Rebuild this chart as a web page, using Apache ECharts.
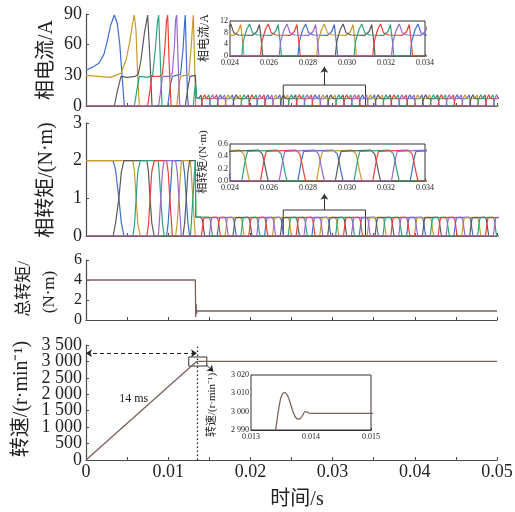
<!DOCTYPE html>
<html>
<head>
<meta charset="utf-8">
<script src="https://cdn.jsdelivr.net/npm/echarts/dist/echarts.min.js"></script>
<style>
  html, body { margin: 0; padding: 0; background: #fff; }
  #chart { width: 515px; height: 512px; }
</style>
</head>
<body>
<div id="chart"></div>
<script>
// ---------------- data ----------------
// phase order: A(blue) B(gold) C(gray) D(green) E(red) F(purple)
const phaseColors = ['#3f6fd1', '#c99a2e', '#5a5a5a', '#2aa57a', '#ee4035', '#9b66cc'];

// start-up phase currents [t (s), i (A)]
const iStartA = [[0,35],[0.0008,38],[0.0016,42],[0.0022,51],[0.0026,64],[0.0030,79],[0.00345,89],[0.0038,81],[0.0041,61],[0.0044,29],[0.00466,0],
  [0.00994,0],[0.0103,22],[0.0105,29],[0.0110,30],[0.0115,31],[0.0118,55],[0.0120,82],[0.01208,89],[0.0122,50],[0.01235,10],[0.01245,0]];
const iStartB = [[0,30],[0.0015,29],[0.0030,28],[0.0036,30],[0.00426,32],[0.00487,45],[0.00535,64],[0.00568,81],[0.00588,89],[0.00608,74],[0.00629,29],[0.00649,0],
  [0.01103,0],[0.0113,18],[0.0115,29],[0.0120,30],[0.0125,30],[0.0128,58],[0.0130,84],[0.01306,89],[0.0132,45],[0.01335,0]];
const iStartC = [[0,0],[0.00345,0],[0.0038,14],[0.00426,29],[0.0050,28],[0.0060,29],[0.00635,31],[0.00669,45],[0.0071,71],[0.0075,89],[0.00779,45],[0.00803,0],
  [0.01208,0],[0.0124,18],[0.01265,29],[0.0133,30],[0.01345,8],[0.0137,7.3]];
const iStartD = [[0,0],[0.00588,0],[0.0062,16],[0.00649,29],[0.0075,28],[0.00811,30],[0.00843,55],[0.00868,81],[0.00884,89],[0.00904,45],[0.00925,0],
  [0.01306,0],[0.0132,14],[0.0133,20],[0.01345,8],[0.0138,7.3]];
const iStartE = [[0,0],[0.0075,0],[0.0078,16],[0.0080,29],[0.0090,29],[0.0093,31],[0.0096,58],[0.0098,84],[0.00994,89],[0.0101,45],[0.01035,0]];
const iStartF = [[0,0],[0.00884,0],[0.0091,16],[0.0093,29],[0.0102,29],[0.0105,32],[0.01075,58],[0.0109,84],[0.01103,89],[0.0112,45],[0.0114,0]];

// start-up phase torques [t (s), T (N·m)]
const tStartA = [[0,2],[0.0033,2],[0.0036,1.75],[0.0040,1.0],[0.0043,0.35],[0.00462,0],[0.0098,0],[0.0100,0.35],[0.0102,1.0],[0.0104,1.65],[0.0105,2],
  [0.0118,2],[0.0120,1.65],[0.0122,1],[0.0124,0.35],[0.0126,0]];
const tStartB = [[0,2],[0.0057,2],[0.0059,1.7],[0.0061,1],[0.0063,0.35],[0.0066,0],[0.0109,0],[0.0111,0.35],[0.0113,1],[0.0115,1.65],[0.0116,2],
  [0.0127,2],[0.0128,1.7],[0.0130,1],[0.0132,0.3],[0.0133,0]];
const tStartC = [[0,0],[0.0033,0],[0.0036,0.35],[0.0040,1],[0.0043,1.7],[0.00462,2],[0.0074,2],[0.0076,1.7],[0.0078,1],[0.0080,0.35],[0.0083,0],
  [0.0118,0],[0.0120,0.35],[0.0122,1],[0.0124,1.7],[0.0126,2],[0.0133,2],[0.01335,0.5],[0.0135,0.5]];
const tStartD = [[0,0],[0.0057,0],[0.0059,0.3],[0.0061,1],[0.0063,1.7],[0.0066,2],[0.0088,2],[0.0089,1.7],[0.0091,1],[0.0093,0.35],[0.0095,0],
  [0.0127,0],[0.0128,0.3],[0.0130,1],[0.0132,1.7],[0.0133,2],[0.01335,0.5],[0.0135,0.5]];
const tStartE = [[0,0],[0.0074,0],[0.0076,0.3],[0.0078,1],[0.0080,1.7],[0.0083,2],[0.0098,2],[0.0100,1.7],[0.0102,1],[0.0104,0.35],[0.0105,0]];
const tStartF = [[0,0],[0.0088,0],[0.0089,0.3],[0.0091,1],[0.0093,1.7],[0.0095,2],[0.0109,2],[0.0111,1.7],[0.0113,1],[0.0115,0.35],[0.0116,0]];

// steady-state commutation instants (s)
const ssEvents = [0.01404,0.01500,0.01596,0.01692,0.01788,0.01884,0.01980,0.02076,0.02172,0.02268,0.02364,0.02460,
  0.02556,0.02652,0.02748,0.02844,0.02940,0.03036,0.03132,0.03228,0.03324,0.03420,0.03516,0.03612,0.03708,0.03804,
  0.03900,0.03996,0.04092,0.04188,0.04284,0.04380,0.04476,0.04572,0.04668,0.04764,0.04860,0.04956,0.05052,0.05148];
// steady-state pulse shapes, relative to turn-on / turn-off instant
const ssCurrentOn  = [[0,0],[0.00008,5],[0.00025,9],[0.0004,11],[0.00055,8],[0.0008,7.2]];
const ssCurrentOff = [[-0.0004,7.1],[-0.00018,8.4],[-0.00005,10.8],[0.00005,5],[0.00012,0]];
const ssTorqueOn   = [[0,0],[0.0001,0.18],[0.0002,0.36],[0.0003,0.48],[0.0004,0.5]];
const ssTorqueOff  = [[-0.0001,0.5],[0.0001,0.44],[0.0002,0.3],[0.0003,0.14],[0.0004,0]];

// total torque (N·m)
const totalTorque = [[0,4],[0.0133,4],[0.01335,0.3],[0.0134,1.6],[0.01345,0.6],[0.0135,0.9],[0.05,0.9]];
// speed (r/min)
const speed = [[0,0],[0.01341,2990],[0.01348,3005],[0.01352,3009.5],[0.01356,3010.4],[0.01362,3008],[0.01370,3000],
  [0.01376,2996.3],[0.01381,2996],[0.01386,2998],[0.01390,3000],[0.01394,2999.7],[0.01398,2999.1],[0.0141,2999.1],[0.05,2999.1]];

// ---------------- build ----------------
function buildPhase(p, start, onTpl, offTpl) {
  const pts = start.map(d => d.slice());
  ssEvents.forEach((e, j) => {
    if ((j + 4) % 6 === p) onTpl.forEach(([dt, v]) => pts.push([e + dt, v]));
    if ((j + 2) % 6 === p) offTpl.forEach(([dt, v]) => pts.push([e + dt, v]));
  });
  return pts;
}
const iStarts = [iStartA, iStartB, iStartC, iStartD, iStartE, iStartF];
const tStarts = [tStartA, tStartB, tStartC, tStartD, tStartE, tStartF];
const phaseCurrent = iStarts.map((s, p) => buildPhase(p, s, ssCurrentOn, ssCurrentOff));
const phaseTorque = tStarts.map((s, p) => buildPhase(p, s, ssTorqueOn, ssTorqueOff));

const SERIF = "'Liberation Serif', 'Times New Roman', 'Noto Sans CJK SC', serif";
const AXIS_COLOR = '#4a4a4a';
const TEXT_COLOR = '#222';
const LINE_DARK = '#7b625c';

const mainGrids = [
  { left: 86, right: 18, top: 14, height: 92 },
  { left: 86, right: 18, top: 123, height: 113 },
  { left: 86, right: 18, top: 260, height: 60 },
  { left: 86, right: 18, top: 345, height: 115 }
];
const insetGrids = [
  { left: 230, width: 195, top: 21, height: 35 },
  { left: 230, width: 195, top: 144, height: 37 },
  { left: 251, width: 120, top: 375, height: 55 }
];
const grids = mainGrids.map(g => Object.assign({ outerBoundsMode: 'none', containLabel: false }, g))
  .concat(insetGrids.map(g => Object.assign({
    outerBoundsMode: 'none', containLabel: false, show: true,
    borderColor: '#333', borderWidth: 1, backgroundColor: '#fff', z: 5
  }, g)));

function timeLabel(v) {
  if (Math.abs(Math.round(v * 1000) % 10) > 0.5) return '';
  return v === 0 ? '0' : v.toFixed(2);
}
function thousands(v) {
  return v >= 1000 ? Math.floor(v / 1000) + ' ' + String(v % 1000).padStart(3, '0') : String(v);
}
const labelCommon = { hideOverlap: false, showMinLabel: true, showMaxLabel: true };

const xAxes = mainGrids.map((g, i) => ({
  type: 'value', gridIndex: i, min: 0, max: 0.05, interval: 0.005,
  axisLine: { lineStyle: { color: AXIS_COLOR, width: 1.2 } },
  axisTick: { inside: true, length: 3, lineStyle: { color: AXIS_COLOR } },
  splitLine: { show: false },
  axisLabel: Object.assign({
    show: i === 3, formatter: timeLabel, color: TEXT_COLOR,
    fontFamily: SERIF, fontSize: 18, margin: 3
  }, labelCommon)
}));
const insetX = [
  { min: 0.024, max: 0.034, interval: 0.002, digits: 3 },
  { min: 0.024, max: 0.034, interval: 0.002, digits: 3 },
  { min: 0.013, max: 0.015, interval: 0.001, digits: 3 }
];
insetX.forEach((a, k) => xAxes.push({
  type: 'value', gridIndex: 4 + k, min: a.min, max: a.max, interval: a.interval,
  axisLine: { lineStyle: { color: '#333' } },
  axisTick: { inside: true, length: 2, lineStyle: { color: '#333' } },
  splitLine: { show: false },
  axisLabel: Object.assign({ formatter: v => v.toFixed(a.digits), color: TEXT_COLOR, fontFamily: SERIF, fontSize: 8, margin: 3 }, labelCommon)
}));

// speed tick labels split over two co-located axes so the tightly spaced labels all stay visible
const speedLabelsEven = v => (v % 1000 === 0 ? thousands(v) : '');
const speedLabelsOdd = v => (v % 1000 === 500 ? thousands(v) : '');
const yMain = [
  { grid: 0, min: 0, max: 90, interval: 30, size: 18 },
  { grid: 1, min: 0, max: 3, interval: 1, size: 18 },
  { grid: 2, min: 0, max: 6, interval: 2, size: 16 },
  { grid: 3, min: 0, max: 3500, interval: 500, size: 18, fmt: speedLabelsEven }
];
const yAxes = yMain.map(a => ({
  type: 'value', gridIndex: a.grid, min: a.min, max: a.max, interval: a.interval,
  axisLine: { show: true, lineStyle: { color: AXIS_COLOR, width: 1.2 } },
  axisTick: { show: true, inside: true, length: 3, lineStyle: { color: AXIS_COLOR } },
  splitLine: { show: false },
  axisLabel: Object.assign({ formatter: a.fmt, color: TEXT_COLOR, fontFamily: SERIF, fontSize: a.size, margin: 4 }, labelCommon)
}));
const yInset = [
  { min: 0, max: 12, interval: 4, fmt: v => String(v) },
  { min: 0, max: 0.6, interval: 0.2, fmt: v => v.toFixed(1) },
  { min: 2990, max: 3020, interval: 10, fmt: thousands }
];
yInset.forEach((a, k) => yAxes.push({
  type: 'value', gridIndex: 4 + k, min: a.min, max: a.max, interval: a.interval,
  axisLine: { show: true, lineStyle: { color: '#333' } },
  axisTick: { show: true, inside: true, length: 2, lineStyle: { color: '#333' } },
  splitLine: { show: false },
  axisLabel: Object.assign({ formatter: a.fmt, color: TEXT_COLOR, fontFamily: SERIF, fontSize: 8, margin: 2 }, labelCommon)
}));
// index 7: second label axis of the speed panel
yAxes.push({
  type: 'value', gridIndex: 3, position: 'left', offset: 0, min: 0, max: 3500, interval: 500,
  axisLine: { show: false }, axisTick: { show: false }, splitLine: { show: false },
  axisLabel: Object.assign({ formatter: speedLabelsOdd, color: TEXT_COLOR, fontFamily: SERIF, fontSize: 18, margin: 4 }, labelCommon)
});

const series = [];
const markStyle = { color: '#333', width: 1, type: 'solid' };
phaseCurrent.forEach((d, p) => {
  const s = {
    type: 'line', xAxisIndex: 0, yAxisIndex: 0, data: d, showSymbol: false, symbol: 'none',
    lineStyle: { color: phaseColors[p], width: 1.2 }, itemStyle: { color: phaseColors[p] }, z: 2 + p
  };
  if (p === 0) {
    s.markArea = { silent: true, itemStyle: { color: 'rgba(0,0,0,0)', borderColor: '#333', borderWidth: 1 },
      data: [[{ coord: [0.024, -3] }, { coord: [0.034, 20.5] }]] };
    s.markLine = { silent: true, symbol: ['none', 'arrow'], symbolSize: 6, label: { show: false }, lineStyle: markStyle,
      data: [[{ coord: [0.029, 20.5] }, { coord: [0.029, 38.5] }]] };
  }
  series.push(s);
  series.push({
    type: 'line', xAxisIndex: 4, yAxisIndex: 4, data: d, showSymbol: false, symbol: 'none',
    lineStyle: { color: phaseColors[p], width: 1.2 }, z: 6 + p
  });
});
phaseTorque.forEach((d, p) => {
  const s = {
    type: 'line', xAxisIndex: 1, yAxisIndex: 1, data: d, showSymbol: false, symbol: 'none',
    lineStyle: { color: phaseColors[p], width: 1.2 }, z: 2 + p
  };
  if (p === 0) {
    s.markArea = { silent: true, itemStyle: { color: 'rgba(0,0,0,0)', borderColor: '#333', borderWidth: 1 },
      data: [[{ coord: [0.024, -0.05] }, { coord: [0.034, 0.69] }]] };
    s.markLine = { silent: true, symbol: ['none', 'arrow'], symbolSize: 6, label: { show: false }, lineStyle: markStyle,
      data: [[{ coord: [0.029, 0.69] }, { coord: [0.029, 1.12] }]] };
  }
  series.push(s);
  series.push({
    type: 'line', xAxisIndex: 5, yAxisIndex: 5, data: d, showSymbol: false, symbol: 'none',
    lineStyle: { color: phaseColors[p], width: 1.2 }, z: 6 + p
  });
});
series.push({
  type: 'line', xAxisIndex: 2, yAxisIndex: 2, data: totalTorque, showSymbol: false, symbol: 'none',
  lineStyle: { color: LINE_DARK, width: 1.3 }
});
series.push({
  type: 'line', xAxisIndex: 3, yAxisIndex: 3, data: speed, showSymbol: false, symbol: 'none',
  lineStyle: { color: LINE_DARK, width: 1.3 },
  markArea: { silent: true, itemStyle: { color: 'rgba(0,0,0,0)', borderColor: '#333', borderWidth: 1 },
    data: [[{ coord: [0.0125, 2860] }, { coord: [0.0147, 3135] }]] },
  markLine: {
    silent: true, label: { show: false }, symbolSize: 6,
    data: [
      [{ coord: [0, 3250], symbol: 'arrow', lineStyle: { color: '#222', width: 1, type: [4, 3] } },
       { coord: [0.0135, 3250], symbol: 'arrow' }],
      [{ coord: [0.0135, 0], symbol: 'none', lineStyle: { color: '#222', width: 1.3, type: [1.5, 2.5] } },
       { coord: [0.0135, 3450], symbol: 'none' }],
      [{ coord: [0.0147, 2880], symbol: 'none', lineStyle: { color: '#222', width: 1, type: 'solid', curveness: 0.4 } },
       { coord: [0.0155, 2690], symbol: 'arrow' }]
    ]
  },
  markPoint: {
    silent: true, symbol: 'circle', symbolSize: 0,
    label: { show: true, formatter: '14 ms', color: TEXT_COLOR, fontFamily: SERIF, fontSize: 12 },
    data: [{ coord: [0.0058, 1870] }]
  }
});
series.push({
  type: 'line', xAxisIndex: 6, yAxisIndex: 6, data: speed, showSymbol: false, symbol: 'none', smooth: 0.3,
  lineStyle: { color: LINE_DARK, width: 1.3 }, z: 8
});
// keeps the second speed label axis attached to the speed panel
series.push({
  type: 'line', xAxisIndex: 3, yAxisIndex: 7, data: [], showSymbol: false, symbol: 'none'
});

function vText(x, y, text, size) {
  return {
    type: 'text', x: x, y: y, rotation: Math.PI / 2, z: 20,
    style: { text: text, fill: TEXT_COLOR, font: size + 'px ' + SERIF,
      align: 'center', verticalAlign: 'middle', textAlign: 'center', textVerticalAlign: 'middle' }
  };
}
const graphics = [
  vText(47, 60, '相电流/A', 20),
  vText(47, 180, '相转矩/(N·m)', 20),
  vText(25, 289, '总转矩/', 17),
  vText(50, 292, '(N·m)', 17),
  vText(22, 399, '转速/(r·min⁻¹)', 20),
  vText(205, 38, '相电流/A', 12),
  vText(203, 162, '相转矩/(N·m)', 11),
  vText(212, 405, '转速/(r·min⁻¹)', 11),
  { type: 'text', x: 297, y: 500, z: 20,
    style: { text: '时间/s', fill: TEXT_COLOR, font: '20px ' + SERIF,
      align: 'center', verticalAlign: 'middle', textAlign: 'center', textVerticalAlign: 'middle' } }
];

const chart = echarts.init(document.getElementById('chart'), null, { renderer: 'canvas' });
chart.setOption({
  animation: false,
  backgroundColor: '#fff',
  grid: grids,
  xAxis: xAxes,
  yAxis: yAxes,
  series: series,
  graphic: graphics
});
</script>
</body>
</html>
